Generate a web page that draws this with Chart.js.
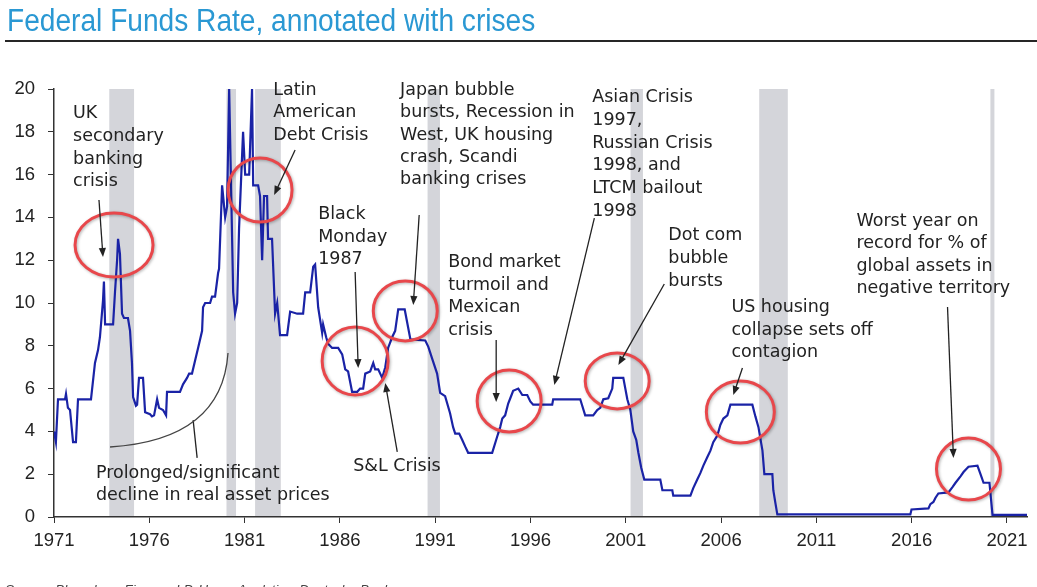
<!DOCTYPE html>
<html>
<head>
<meta charset="utf-8">
<script src="https://cdn.jsdelivr.net/npm/chart.js@4.4.1/dist/chart.umd.min.js"></script>
<style>
html,body{margin:0;padding:0;background:#fff;overflow:hidden;}
#wrap{position:relative;width:1037px;height:587px;overflow:hidden;}
#title{position:absolute;left:7px;top:5px;font-family:"Liberation Sans",Arial,sans-serif;font-size:31px;line-height:31px;color:#2a98d3;white-space:nowrap;transform:scaleX(0.907);transform-origin:0 0;}
#rule{position:absolute;left:5px;top:40px;width:1032px;height:2px;background:#262626;}
#source{position:absolute;left:5px;top:583px;font-family:"Liberation Sans",Arial,sans-serif;font-style:italic;font-size:13.5px;line-height:14px;color:#444;white-space:nowrap;}
canvas{position:absolute;left:0;top:0;}
</style>
</head>
<body>
<div id="wrap">
<canvas id="c" width="1037" height="587"></canvas>
<div id="title">Federal Funds Rate, annotated with crises</div>
<div id="rule"></div>
<div id="source">Source: Bloomberg Finance LP, Haver Analytics, Deutsche Bank</div>
</div>
<script>
// ---- data ----
const fedYears = [
1971.00,1971.10,1971.21,1971.58,1971.63,1971.73,1971.84,1972.00,1972.15,1972.26,
1972.94,1973.15,1973.31,1973.41,1973.57,1973.62,1973.68,1974.10,1974.20,1974.31,
1974.36,1974.46,1974.57,1974.67,1974.88,1974.99,1975.09,1975.15,1975.30,1975.36,
1975.46,1975.67,1975.78,1976.04,1976.14,1976.25,1976.41,1976.51,1976.72,1976.88,
1976.93,1977.61,1977.77,1977.98,1978.09,1978.24,1978.40,1978.56,1978.77,1978.82,
1978.93,1979.19,1979.29,1979.45,1979.61,1979.66,1979.82,1979.98,1980.08,1980.19,
1980.40,1980.50,1980.61,1980.71,1980.92,1981.03,1981.24,1981.39,1981.45,1981.71,
1981.81,1981.92,1982.02,1982.18,1982.23,1982.44,1982.60,1982.71,1982.76,1982.86,
1983.23,1983.39,1983.76,1984.07,1984.18,1984.44,1984.60,1984.70,1984.86,1985.07,
1985.12,1985.28,1985.38,1985.59,1985.91,1986.12,1986.28,1986.43,1986.64,1986.91,
1987.06,1987.22,1987.33,1987.59,1987.75,1987.85,1988.01,1988.22,1988.38,1988.53,
1988.74,1988.90,1989.06,1989.40,1989.70,1990.48,1990.64,1990.84,1991.10,1991.26,
1991.52,1991.78,1991.94,1992.05,1992.26,1992.42,1992.57,1992.73,1993.99,1994.25,
1994.41,1994.52,1994.67,1994.83,1994.94,1995.09,1995.36,1995.57,1995.83,1995.99,
1996.14,1997.14,1997.19,1998.61,1998.87,1999.29,1999.50,1999.66,1999.82,2000.08,
2000.29,2000.34,2000.87,2001.08,2001.24,2001.39,2001.55,2001.66,2001.81,2001.97,
2002.81,2002.92,2003.44,2003.49,2004.39,2004.54,2004.75,2004.91,2005.07,2005.28,
2005.44,2005.59,2005.80,2005.96,2006.12,2006.33,2006.49,2007.64,2007.80,2007.96,
2008.17,2008.27,2008.69,2008.74,2008.85,2008.95,2015.93,2015.99,2016.88,2016.98,
2017.14,2017.25,2017.40,2017.93,2018.14,2018.30,2018.56,2018.72,2018.98,2019.45,
2019.61,2019.77,2020.08,2020.24,2022.05
];
const fedRates = [
4.0,3.5,5.5,5.5,5.75,5.1,5.0,3.5,3.5,5.5,
5.5,7.2,7.8,8.4,10.1,11.0,9.0,9.0,10.5,12.0,
13.0,12.3,9.5,9.3,9.3,8.7,7.2,5.6,5.2,5.25,
6.5,6.5,4.9,4.8,4.7,4.75,5.5,5.1,5.0,4.75,
5.85,5.85,6.2,6.5,6.7,6.7,7.3,7.9,8.7,9.8,
10.0,10.0,10.3,10.3,11.4,11.6,15.5,14.0,14.5,20.0,
10.5,9.5,10.0,13.5,18.0,16.0,16.0,20.0,15.5,15.5,
15.0,12.0,15.0,15.0,13.0,13.0,9.5,10.0,9.5,8.5,
8.5,9.6,9.5,9.5,10.5,10.5,11.7,11.8,9.8,8.6,
9.0,8.4,8.1,7.9,7.9,7.6,6.9,6.8,5.85,5.85,
6.0,6.0,6.7,6.8,7.2,6.9,6.9,6.5,7.0,7.9,
8.4,8.7,9.7,9.7,8.3,8.25,7.95,7.4,6.7,5.8,
5.65,4.85,4.2,3.9,3.9,3.6,3.3,3.0,3.0,3.75,
4.2,4.6,4.75,5.3,5.55,5.9,6.0,5.7,5.7,5.4,
5.25,5.25,5.5,5.5,4.75,4.75,5.0,5.1,5.5,5.55,
6.0,6.5,6.5,5.5,5.0,4.0,3.6,3.0,2.3,1.75,
1.75,1.25,1.25,1.0,1.0,1.35,1.75,2.05,2.4,2.8,
3.1,3.5,3.8,4.3,4.6,4.75,5.25,5.25,4.7,4.2,
3.1,2.0,2.0,1.25,0.65,0.12,0.12,0.35,0.4,0.6,
0.7,0.9,1.1,1.15,1.4,1.6,1.9,2.1,2.35,2.4,
2.0,1.6,1.6,0.1,0.1
];
const recessionStarts = [1973.90, 1980.05, 1981.55, 1990.60, 2001.25, 2008.00, 2020.13];
const recessionEnds   = [1975.20, 1980.55, 1982.90, 1991.25, 2001.90, 2009.50, 2020.34];
const xTickYears = [1971,1976,1981,1986,1991,1996,2001,2006,2011,2016,2021];
const yTickValues = [0,2,4,6,8,10,12,14,16,18,20];

// ---- annotations (placed in data units, drawn through the scales) ----
const notes = [
  {x:1972.00, y:18.64, lh:22.7, lines:["UK","secondary","banking","crisis"]},
  {x:1982.50, y:19.72, lh:22.5, lines:["Latin","American","Debt Crisis"]},
  {x:1989.16, y:19.72, lh:22.3, lines:["Japan bubble","bursts, Recession in","West, UK housing","crash, Scandi","banking crises"]},
  {x:1999.24, y:19.39, lh:22.8, lines:["Asian Crisis","1997,","Russian Crisis","1998, and","LTCM bailout","1998"]},
  {x:1984.86, y:13.93, lh:22.7, lines:["Black","Monday","1987"]},
  {x:1991.68, y:11.68, lh:22.7, lines:["Bond market","turmoil and","Mexican","crisis"]},
  {x:2003.23, y:12.94, lh:22.8, lines:["Dot com","bubble","bursts"]},
  {x:2006.54, y:9.58,  lh:22.7, lines:["US housing","collapse sets off","contagion"]},
  {x:2013.10, y:13.60, lh:22.5, lines:["Worst year on","record for % of","global assets in","negative territory"]},
  {x:1973.20, y:1.82,  lh:21.5, lines:["Prolonged/significant","decline in real asset prices"]},
  {x:1986.70, y:2.15,  lh:22.7, lines:["S&L Crisis"]}
];
const circles = [
  {x:1974.15, y:12.71, rx:39, ry:32},
  {x:1981.81, y:15.28, rx:32, ry:32},
  {x:1986.80, y:7.29,  rx:33, ry:34},
  {x:1989.43, y:9.63,  rx:32, ry:30},
  {x:1994.88, y:5.42,  rx:32, ry:31},
  {x:2000.55, y:6.36,  rx:32, ry:28},
  {x:2007.01, y:4.91,  rx:34, ry:31},
  {x:2018.98, y:2.24,  rx:32, ry:31}
];
const arrows = [
  {x0:1973.36,y0:14.81,x1:1973.57,y1:12.15,head:true},
  {x0:1983.65,y0:17.15,x1:1982.55,y1:15.05,head:true},
  {x0:1986.80,y0:11.45,x1:1986.96,y1:6.96,head:true},
  {x0:1989.01,y0:3.04, x1:1988.38,y1:6.26,head:true},
  {x0:1990.16,y0:14.11,x1:1989.85,y1:9.91,head:true},
  {x0:1994.20,y0:8.27, x1:1994.20,y1:5.37,head:true},
  {x0:1999.35,y0:13.97,x1:1997.25,y1:6.17,head:true},
  {x0:2003.02,y0:10.89,x1:2000.61,y1:7.10,head:true},
  {x0:2007.12,y0:6.96, x1:2006.64,y1:5.70,head:true},
  {x0:2017.88,y0:9.81, x1:2018.19,y1:2.76,head:true},
  {x0:1978.51,y0:2.76, x1:1978.30,y1:4.53,head:false}
];
const declineCurve = {x0:1973.94,y0:3.27,cx:1979.82,cy:3.60,x1:1980.13,y1:7.66};

const points = fedYears.map((yr, i) => ({x: yr, y: fedRates[i]}));

const recessionPlugin = {
  id: 'recessions',
  beforeDraw(chart) {
    const {ctx, chartArea, scales} = chart;
    ctx.save();
    ctx.fillStyle = '#d4d5da';
    for (let i = 0; i < recessionStarts.length; i++) {
      const a = scales.x.getPixelForValue(recessionStarts[i]);
      const b = scales.x.getPixelForValue(recessionEnds[i]);
      ctx.fillRect(a, chartArea.top, b - a, chartArea.bottom - chartArea.top);
    }
    ctx.restore();
  }
};

function drawArrow(ctx, x0, y0, x1, y1, head) {
  const ang = Math.atan2(y1 - y0, x1 - x0);
  const L = 9, W = 3.6;
  const ex = head ? x1 - Math.cos(ang) * (L - 1) : x1;
  const ey = head ? y1 - Math.sin(ang) * (L - 1) : y1;
  ctx.beginPath();
  ctx.moveTo(x0, y0);
  ctx.lineTo(ex, ey);
  ctx.stroke();
  if (head) {
    ctx.beginPath();
    ctx.moveTo(x1, y1);
    ctx.lineTo(x1 - Math.cos(ang) * L + Math.sin(ang) * W, y1 - Math.sin(ang) * L - Math.cos(ang) * W);
    ctx.lineTo(x1 - Math.cos(ang) * L - Math.sin(ang) * W, y1 - Math.sin(ang) * L + Math.cos(ang) * W);
    ctx.closePath();
    ctx.fill();
  }
}

const annotationPlugin = {
  id: 'annotations',
  afterDatasetsDraw(chart) {
    const {ctx, scales} = chart;
    const X = v => scales.x.getPixelForValue(v);
    const Y = v => scales.y.getPixelForValue(v);
    ctx.save();
    // red circles
    ctx.strokeStyle = '#e8474b';
    ctx.lineWidth = 3;
    ctx.shadowColor = 'rgba(0,0,0,0.30)';
    ctx.shadowBlur = 3;
    ctx.shadowOffsetX = 1;
    ctx.shadowOffsetY = 1;
    circles.forEach(c => {
      ctx.beginPath();
      ctx.ellipse(X(c.x), Y(c.y), c.rx, c.ry, 0, 0, Math.PI * 2);
      ctx.stroke();
    });
    ctx.shadowColor = 'rgba(0,0,0,0)';
    ctx.shadowBlur = 0;
    ctx.shadowOffsetX = 0;
    ctx.shadowOffsetY = 0;
    // arrows
    ctx.strokeStyle = '#222';
    ctx.fillStyle = '#222';
    ctx.lineWidth = 1.3;
    arrows.forEach(a => drawArrow(ctx, X(a.x0), Y(a.y0), X(a.x1), Y(a.y1), a.head));
    // decline curve
    ctx.strokeStyle = '#444';
    ctx.lineWidth = 1.3;
    ctx.beginPath();
    ctx.moveTo(X(declineCurve.x0), Y(declineCurve.y0));
    ctx.quadraticCurveTo(X(declineCurve.cx), Y(declineCurve.cy), X(declineCurve.x1), Y(declineCurve.y1));
    ctx.stroke();
    // text
    ctx.fillStyle = '#222';
    ctx.font = '17.5px "DejaVu Sans"';
    ctx.textAlign = 'left';
    ctx.textBaseline = 'alphabetic';
    notes.forEach(n => {
      const x = X(n.x), y = Y(n.y);
      n.lines.forEach((t, i) => ctx.fillText(t, x, y + i * n.lh));
    });
    ctx.restore();
  }
};

const tickFont = {family: '"Liberation Sans", Arial, sans-serif', size: 18.5};

new Chart(document.getElementById('c'), {
  type: 'line',
  data: {
    datasets: [{
      data: points,
      borderColor: '#1a23a6',
      borderWidth: 2.2,
      pointRadius: 0,
      tension: 0,
      fill: false
    }]
  },
  options: {
    responsive: false,
    animation: false,
    devicePixelRatio: 1,
    layout: {padding: {top: 89, right: 10, left: 0, bottom: 0}},
    plugins: {legend: {display: false}, tooltip: {enabled: false}, title: {display: false}},
    scales: {
      x: {
        type: 'linear', min: 1971, max: 2022.05,
        afterBuildTicks: s => { s.ticks = xTickYears.map(v => ({value: v})); },
        afterFit: s => { s.height = 70; },
        ticks: {font: tickFont, color: '#222', padding: 7, maxRotation: 0, autoSkip: false, callback: v => String(v)},
        grid: {drawOnChartArea: false, tickLength: 6, color: '#333', lineWidth: 1},
        border: {display: true, color: '#333', width: 1.5}
      },
      y: {
        type: 'linear', min: 0, max: 20,
        afterBuildTicks: s => { s.ticks = yTickValues.map(v => ({value: v})); },
        afterFit: s => { s.width = 54; },
        ticks: {font: tickFont, color: '#222', padding: 13, autoSkip: false, callback: v => String(v)},
        grid: {drawOnChartArea: false, tickLength: 6, color: '#333', lineWidth: 1},
        border: {display: true, color: '#333', width: 1.5}
      }
    }
  },
  plugins: [recessionPlugin, annotationPlugin]
});
</script>
</body>
</html>
